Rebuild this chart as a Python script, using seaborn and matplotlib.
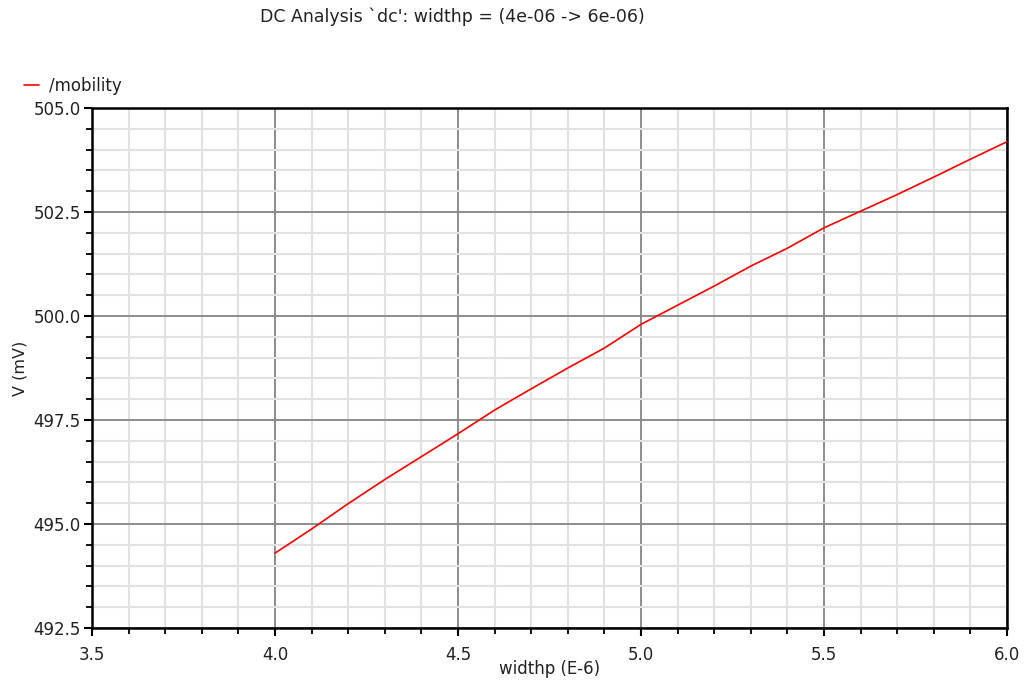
import matplotlib
matplotlib.use("Agg")
import matplotlib.pyplot as plt
import seaborn as sns
import pandas as pd
from matplotlib.ticker import MultipleLocator, FormatStrFormatter

widthp = [4.0, 4.1, 4.2, 4.3, 4.4, 4.5, 4.6, 4.7, 4.8, 4.9, 5.0,
          5.1, 5.2, 5.3, 5.4, 5.5, 5.6, 5.7, 5.8, 5.9, 6.0]
mobility = [494.30, 494.88, 495.49, 496.07, 496.62, 497.17, 497.74, 498.25,
            498.75, 499.23, 499.80, 500.26, 500.72, 501.20, 501.63, 502.12,
            502.52, 502.92, 503.34, 503.77, 504.19]
series_name = "/mobility"
title = "DC Analysis `dc': widthp = (4e-06 -> 6e-06)"
xlabel = "widthp (E-6)"
ylabel = "V (mV)"

sns.set_theme(style="white")
plt.rcParams['font.family'] = ['DejaVu Sans']

df = pd.DataFrame({"widthp": widthp, "V": mobility})

fig = plt.figure(figsize=(10.25, 6.83), dpi=100)
ax = fig.add_axes([92/1025, 55/683, (1007-92)/1025, (628-108)/683])

sns.lineplot(data=df, x="widthp", y="V", color="#ff0000", linewidth=1.2,
             ax=ax, label=series_name, zorder=5)

ax.set_xlim(3.5, 6.0)
ax.set_ylim(492.5, 505.0)
ax.xaxis.set_major_locator(MultipleLocator(0.5))
ax.xaxis.set_minor_locator(MultipleLocator(0.1))
ax.yaxis.set_major_locator(MultipleLocator(2.5))
ax.yaxis.set_minor_locator(MultipleLocator(0.5))
ax.xaxis.set_major_formatter(FormatStrFormatter("%.1f"))
ax.yaxis.set_major_formatter(FormatStrFormatter("%.1f"))

ax.grid(which="minor", color="#e2e2e2", linewidth=1.5, zorder=0)
ax.grid(which="major", color="#858585", linewidth=1.3, zorder=1)
ax.set_axisbelow(True)

for s in ax.spines.values():
    s.set_color("black")
    s.set_linewidth(1.8)
    s.set_visible(True)

ax.tick_params(axis="both", which="major", direction="out", length=6, width=1.5,
               color="black", labelsize=12, labelcolor="#222222", pad=2,
               left=True, bottom=True)
ax.tick_params(axis="x", which="major", pad=7)
ax.tick_params(axis="both", which="minor", direction="out", length=4, width=1.3,
               color="black", left=True, bottom=True)

ax.set_xlabel(xlabel, fontsize=12, color="#222222", labelpad=-3)
ax.set_ylabel(ylabel, fontsize=11.5, color="#222222", labelpad=4)

fig.text(452/1025, 1 - 17/683, title, ha="center", va="center",
         fontsize=12.5, color="#222222")

leg = ax.legend(loc="upper left", bbox_to_anchor=(24/1025, 1 - 77/683),
                bbox_transform=fig.transFigure, frameon=False, fontsize=12,
                handlelength=0.9, handletextpad=0.6, borderaxespad=0,
                borderpad=0)
for t in leg.get_texts():
    t.set_color("#222222")

fig.savefig("out.png", dpi=100)
